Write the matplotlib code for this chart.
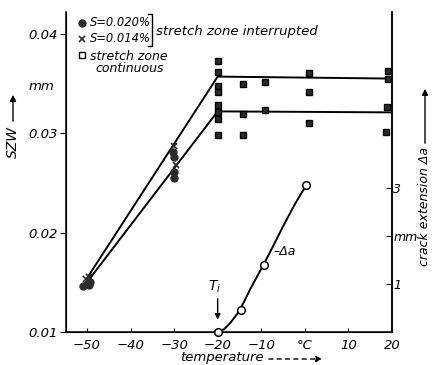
import numpy as np
import matplotlib
matplotlib.use('Agg')
import matplotlib.pyplot as plt

# SZW data (mm) vs temperature (deg C)
circ_x = [-50.8, -50.0, -49.2, -49.6, -30.2, -30.0, -30.1, -30.0]
circ_y = [0.0146, 0.0148, 0.0150, 0.0147, 0.0281, 0.0276, 0.0261, 0.0255]
cross_x = [-49.6, -50.3, -30.0, -29.6]
cross_y = [0.0155, 0.0153, 0.0287, 0.0268]
sq_x = [-20, -20, -20, -20, -20, -20, -20, -20,
        -14.3, -14.3, -14.3, -9.2, -9.2, 1.0, 1.0, 1.0,
        19.0, 19.0, 18.8, 18.6]
sq_y = [0.0373, 0.0362, 0.0348, 0.0341, 0.0328, 0.0321, 0.0314, 0.0298,
        0.0350, 0.0319, 0.0298, 0.0352, 0.0323, 0.0361, 0.0342, 0.0310,
        0.0363, 0.0355, 0.0326, 0.0301]
upper_x = [-50, -20, 20]
upper_y = [0.0154, 0.0357, 0.0355]
lower_x = [-50, -20, 20]
lower_y = [0.0150, 0.0322, 0.0321]

# crack extension (mm)
da_x = [-20, -14.7, -9.4, 0.3]
da_y = [0.0, 0.46, 1.4, 3.06]
da_curve_x = [-20, -18.5, -17, -15.5, -14, -12.5, -11, -9.5, -7.5, -5, -2.5, 0.3]
da_curve_y = [0.0, 0.06, 0.2, 0.38, 0.62, 0.9, 1.15, 1.4, 1.75, 2.2, 2.63, 3.06]

xticks = [-50, -40, -30, -20, -10, 0, 10, 20]
xticklabels = ['\u221250', '\u221240', '\u221230', '\u221220', '\u221210', '\u00b0C', '10', '20']
yticks = [0.01, 0.02, 0.03, 0.04]
yticklabels = ['0.01', '0.02', '0.03', '0.04']
rticks = [1, 2, 3]
rticklabels = ['1', 'mm', '3']

W, H = 432, 365
fig = plt.figure(figsize=(W / 100, H / 100), dpi=100)
ax = fig.add_axes([66 / W, 1 - 332 / H, (392 - 66) / W, (332 - 12) / H])
ax2 = ax.twinx()

def fp(x, y):
    return x / W, 1 - y / H

dark = '#2b2b2b'
lw = 1.4

ax.plot(upper_x, upper_y, color='black', lw=lw, zorder=2)
ax.plot(lower_x, lower_y, color='black', lw=lw, zorder=2)
ax.plot(circ_x, circ_y, 'o', color=dark, ms=5, zorder=3)
ax.plot(cross_x, cross_y, 'x', color=dark, ms=5, mew=1.2, zorder=3)
ax.plot(sq_x, sq_y, 's', color=dark, mec='black', ms=5, zorder=3)

ax.set_xlim(-54.8, 20)
ax.set_ylim(0.01, 0.0422)
ax.set_xticks(xticks)
ax.set_xticklabels(xticklabels, style='italic', fontsize=9.5)
ax.set_yticks(yticks)
ax.set_yticklabels(yticklabels, style='italic', fontsize=9.5)
ax.tick_params(axis='x', direction='in', length=3, pad=5)
ax.tick_params(axis='y', direction='out', length=4, pad=2)
ax.spines['top'].set_visible(False)
for s in ['left', 'bottom', 'right']:
    ax.spines[s].set_linewidth(1.1)

ax2.plot(da_curve_x, da_curve_y, color='black', lw=lw, zorder=2)
ax2.plot(da_x, da_y, 'o', mfc='white', mec='black', ms=5.5, mew=1.1, zorder=3, clip_on=False)
ax2.set_ylim(0, 6.67)
ax2.set_yticks(rticks)
ax2.set_yticklabels(rticklabels, style='italic', fontsize=9)
ax2.tick_params(axis='y', direction='in', length=4, pad=1)
ax2.spines['top'].set_visible(False)
ax2.spines['right'].set_linewidth(1.1)

ax2.text(-7.2, 1.67, '\u2013\u0394a', style='italic', fontsize=9, va='center', ha='left')
ax2.text(-20.6, 0.95, '$T_i$', fontsize=10, ha='center', va='center')
ax2.annotate('', xy=(-20, 0.2), xytext=(-20, 0.75),
             arrowprops=dict(arrowstyle='-|>', color='black', lw=1.0, mutation_scale=8))

ax.text(-57.5, 0.0347, 'mm', style='italic', fontsize=9.5, ha='right', va='center')

# axis titles
fig.text(*fp(13, 142), 'SZW', rotation=90, style='italic', fontsize=10, ha='center', va='center')
fig.add_artist(matplotlib.patches.FancyArrowPatch(fp(13, 124), fp(13, 92), transform=fig.transFigure,
                                                  arrowstyle='-|>', mutation_scale=9, color='black', lw=1.0))
fig.text(*fp(222, 357), 'temperature', style='italic', fontsize=9.5, ha='center', va='center')
fig.add_artist(matplotlib.patches.FancyArrowPatch(fp(266, 359), fp(325, 359), transform=fig.transFigure,
                                                  arrowstyle='-|>', mutation_scale=9, color='black',
                                                  lw=1.0, linestyle=(0, (3, 3))))
fig.text(*fp(425, 206), 'crack extension \u0394a', rotation=90, style='italic', fontsize=9,
         ha='center', va='center')
fig.add_artist(matplotlib.patches.FancyArrowPatch(fp(425, 146), fp(425, 86), transform=fig.transFigure,
                                                  arrowstyle='-|>', mutation_scale=9, color='black', lw=1.0))

# legend drawn by hand
fig.add_artist(matplotlib.lines.Line2D(*zip(fp(82, 23)), marker='o', color=dark, ms=5, transform=fig.transFigure))
fig.add_artist(matplotlib.lines.Line2D(*zip(fp(82, 39)), marker='x', color=dark, ms=5, mew=1.2,
                                       transform=fig.transFigure))
fig.add_artist(matplotlib.lines.Line2D(*zip(fp(82, 55)), marker='s', mfc='white', mec='black', ms=5,
                                       transform=fig.transFigure))
fig.text(*fp(90, 23), 'S=0.020%', style='italic', fontsize=8.3, va='center')
fig.text(*fp(90, 39), 'S=0.014%', style='italic', fontsize=8.3, va='center')
fig.add_artist(matplotlib.lines.Line2D([148 / W, 152 / W, 152 / W, 148 / W],
                                       [1 - 14 / H, 1 - 14 / H, 1 - 46 / H, 1 - 46 / H],
                                       color='black', lw=1.0, transform=fig.transFigure))
fig.text(*fp(156, 32), 'stretch zone interrupted', style='italic', fontsize=9.5, va='center')
fig.text(*fp(90, 56), 'stretch zone', style='italic', fontsize=9, va='center')
fig.text(*fp(95, 69), 'continuous', style='italic', fontsize=9, va='center')

fig.savefig('out.png', dpi=100)
